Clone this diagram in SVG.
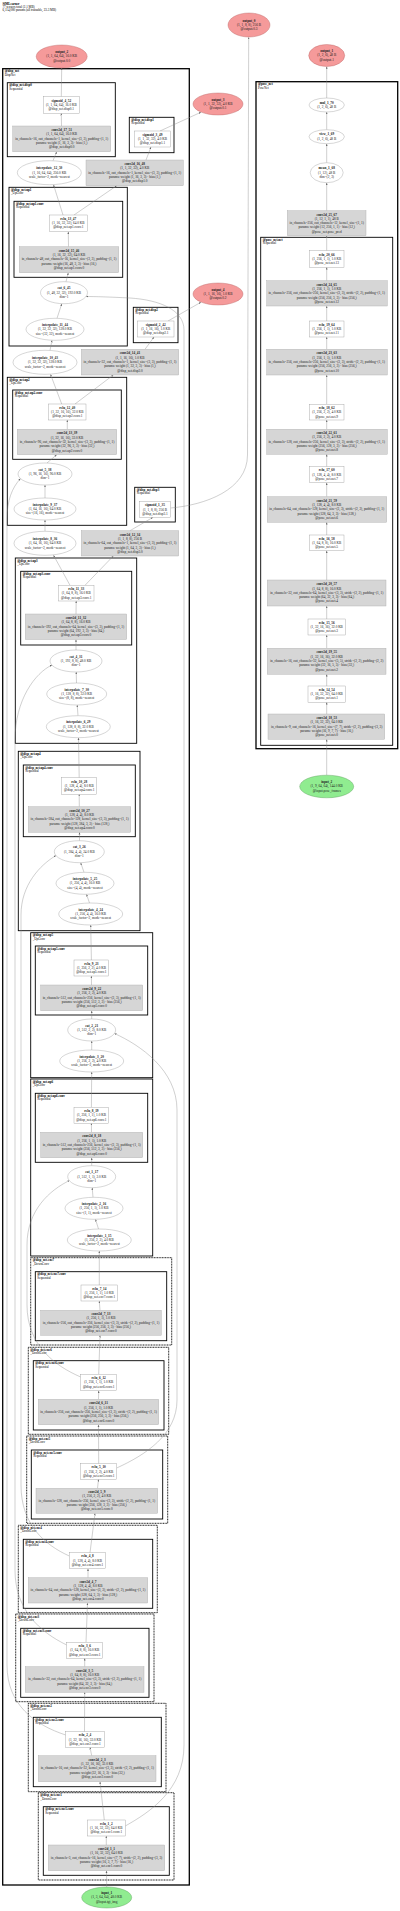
<svg xmlns="http://www.w3.org/2000/svg" width="400" height="1911" viewBox="0 0 400 1911">
<defs>
<marker id="a" viewBox="0 0 10 10" refX="10" refY="5" markerWidth="2.2" markerHeight="2.2" markerUnits="userSpaceOnUse" orient="auto"><path d="M0,1 L10,5 L0,9 z" fill="#666"/></marker>
<style>
.c{fill:none;stroke:#000;stroke-width:0.9}
.co{fill:none;stroke:#000;stroke-width:1.3}
.cd{fill:none;stroke:#000;stroke-width:0.9;stroke-dasharray:1 0.6}
.cl{font-family:"Liberation Serif",serif;font-size:3.2px;fill:#000}
.b{fill:#fff;stroke:#999;stroke-width:0.4}
.g{fill:#d6d6d6;stroke:#aaa;stroke-width:0.4}
.o{fill:#f59a9a;stroke:#b86464;stroke-width:0.4}
.i{fill:#90ec90;stroke:#5a9a5a;stroke-width:0.4}
.t{font-family:"Liberation Serif",serif;font-size:3.4px;text-anchor:middle;fill:#222}
.h{font-weight:bold}
.hd{font-family:"Liberation Serif",serif;font-size:3.2px;fill:#000}
#edges path{fill:none;stroke:#888;stroke-width:0.4;marker-end:url(#a)}
</style>
</defs>
<rect width="400" height="1911" fill="#fff"/>
<g id="header">
<text class="hd" x="2.5" y="4.5"><tspan class="h">SfMLearner</tspan><tspan x="2.5" dy="3.3">77 tensors total (2.1 MB)</tspan><tspan x="2.5" dy="3.3">6,114,080 params (all trainable, 23.3 MB)</tspan></text>
</g>
<g id="clusters">
<rect class="co" x="2.7" y="68.7" width="186.6" height="1816.3"/><text class="cl" x="4.7" y="72.3"><tspan class="h">@disp_net</tspan><tspan x="4.7" dy="3.3">DispNet</tspan></text>
<rect class="c" x="7.3" y="82.7" width="108" height="74"/><text class="cl" x="9.3" y="86.3"><tspan class="h">@disp_net.disp0</tspan><tspan x="9.3" dy="3.3">Sequential</tspan></text>
<rect class="c" x="129.3" y="117.3" width="44.7" height="35.4"/><text class="cl" x="131.3" y="120.9"><tspan class="h">@disp_net.disp1</tspan><tspan x="131.3" dy="3.3">Sequential</tspan></text>
<rect class="c" x="9" y="187.3" width="118.3" height="158.7"/><text class="cl" x="11" y="190.9"><tspan class="h">@disp_net.up1</tspan><tspan x="11" dy="3.3">_UpConv</tspan></text>
<rect class="c" x="14" y="201.3" width="108.7" height="76"/><text class="cl" x="16" y="204.9"><tspan class="h">@disp_net.up1.conv</tspan><tspan x="16" dy="3.3">Sequential</tspan></text>
<rect class="c" x="133.3" y="307.3" width="44.7" height="35.4"/><text class="cl" x="135.3" y="310.9"><tspan class="h">@disp_net.disp2</tspan><tspan x="135.3" dy="3.3">Sequential</tspan></text>
<rect class="c" x="7.3" y="377.3" width="119.4" height="148"/><text class="cl" x="9.3" y="380.9"><tspan class="h">@disp_net.up2</tspan><tspan x="9.3" dy="3.3">_UpConv</tspan></text>
<rect class="c" x="12.7" y="390" width="108.6" height="69.3"/><text class="cl" x="14.7" y="393.6"><tspan class="h">@disp_net.up2.conv</tspan><tspan x="14.7" dy="3.3">Sequential</tspan></text>
<rect class="c" x="134.7" y="487.3" width="40.6" height="34.7"/><text class="cl" x="136.7" y="490.9"><tspan class="h">@disp_net.disp3</tspan><tspan x="136.7" dy="3.3">Sequential</tspan></text>
<rect class="c" x="15.3" y="558" width="121.4" height="185.3"/><text class="cl" x="17.3" y="561.6"><tspan class="h">@disp_net.up3</tspan><tspan x="17.3" dy="3.3">_UpConv</tspan></text>
<rect class="c" x="20.7" y="571.3" width="111" height="73.7"/><text class="cl" x="22.7" y="574.9"><tspan class="h">@disp_net.up3.conv</tspan><tspan x="22.7" dy="3.3">Sequential</tspan></text>
<rect class="c" x="18.3" y="751.3" width="121.7" height="179.4"/><text class="cl" x="20.3" y="754.9"><tspan class="h">@disp_net.up4</tspan><tspan x="20.3" dy="3.3">_UpConv</tspan></text>
<rect class="c" x="23.3" y="765" width="112" height="71.7"/><text class="cl" x="25.3" y="768.6"><tspan class="h">@disp_net.up4.conv</tspan><tspan x="25.3" dy="3.3">Sequential</tspan></text>
<rect class="c" x="30.7" y="932.7" width="122" height="145"/><text class="cl" x="32.7" y="936.3"><tspan class="h">@disp_net.up5</tspan><tspan x="32.7" dy="3.3">_UpConv</tspan></text>
<rect class="c" x="35.3" y="946" width="112.4" height="69"/><text class="cl" x="37.3" y="949.6"><tspan class="h">@disp_net.up5.conv</tspan><tspan x="37.3" dy="3.3">Sequential</tspan></text>
<rect class="c" x="30.7" y="1079" width="122" height="177"/><text class="cl" x="32.7" y="1082.6"><tspan class="h">@disp_net.up6</tspan><tspan x="32.7" dy="3.3">_UpConv</tspan></text>
<rect class="c" x="35.3" y="1093.3" width="112.4" height="69"/><text class="cl" x="37.3" y="1096.9"><tspan class="h">@disp_net.up6.conv</tspan><tspan x="37.3" dy="3.3">Sequential</tspan></text>
<rect class="cd" x="30.7" y="1257.7" width="141" height="87.3"/><text class="cl" x="32.7" y="1261.3"><tspan class="h">@disp_net.enc7</tspan><tspan x="32.7" dy="3.3">_DownConv</tspan></text>
<rect class="c" x="35.3" y="1271.7" width="131.4" height="69"/><text class="cl" x="37.3" y="1275.3"><tspan class="h">@disp_net.enc7.conv</tspan><tspan x="37.3" dy="3.3">Sequential</tspan></text>
<rect class="cd" x="28.3" y="1347.3" width="140.4" height="87"/><text class="cl" x="30.3" y="1350.9"><tspan class="h">@disp_net.enc6</tspan><tspan x="30.3" dy="3.3">_DownConv</tspan></text>
<rect class="c" x="33.3" y="1360.7" width="130.7" height="69.3"/><text class="cl" x="35.3" y="1364.3"><tspan class="h">@disp_net.enc6.conv</tspan><tspan x="35.3" dy="3.3">Sequential</tspan></text>
<rect class="cd" x="26.7" y="1436" width="141" height="87.3"/><text class="cl" x="28.7" y="1439.6"><tspan class="h">@disp_net.enc5</tspan><tspan x="28.7" dy="3.3">_DownConv</tspan></text>
<rect class="c" x="31.3" y="1450" width="131.4" height="69"/><text class="cl" x="33.3" y="1453.6"><tspan class="h">@disp_net.enc5.conv</tspan><tspan x="33.3" dy="3.3">Sequential</tspan></text>
<rect class="cd" x="18.3" y="1525.3" width="139" height="87.4"/><text class="cl" x="20.3" y="1528.9"><tspan class="h">@disp_net.enc4</tspan><tspan x="20.3" dy="3.3">_DownConv</tspan></text>
<rect class="c" x="23.3" y="1539.3" width="129.4" height="69"/><text class="cl" x="25.3" y="1542.9"><tspan class="h">@disp_net.enc4.conv</tspan><tspan x="25.3" dy="3.3">Sequential</tspan></text>
<rect class="cd" x="15.7" y="1614" width="138.3" height="87.7"/><text class="cl" x="17.7" y="1617.6"><tspan class="h">@disp_net.enc3</tspan><tspan x="17.7" dy="3.3">_DownConv</tspan></text>
<rect class="c" x="20.7" y="1628.3" width="128.3" height="69"/><text class="cl" x="22.7" y="1631.9"><tspan class="h">@disp_net.enc3.conv</tspan><tspan x="22.7" dy="3.3">Sequential</tspan></text>
<rect class="cd" x="28.3" y="1703.3" width="137.7" height="88.4"/><text class="cl" x="30.3" y="1706.9"><tspan class="h">@disp_net.enc2</tspan><tspan x="30.3" dy="3.3">_DownConv</tspan></text>
<rect class="c" x="33.3" y="1717.3" width="128" height="69.4"/><text class="cl" x="35.3" y="1720.9"><tspan class="h">@disp_net.enc2.conv</tspan><tspan x="35.3" dy="3.3">Sequential</tspan></text>
<rect class="cd" x="38.3" y="1792.7" width="135.7" height="87.3"/><text class="cl" x="40.3" y="1796.3"><tspan class="h">@disp_net.enc1</tspan><tspan x="40.3" dy="3.3">_DownConv</tspan></text>
<rect class="c" x="43.3" y="1806.7" width="126" height="68.6"/><text class="cl" x="45.3" y="1810.3"><tspan class="h">@disp_net.enc1.conv</tspan><tspan x="45.3" dy="3.3">Sequential</tspan></text>
<rect class="co" x="256" y="81.7" width="141.7" height="667"/><text class="cl" x="258" y="85.3"><tspan class="h">@pose_net</tspan><tspan x="258" dy="3.3">PoseNet</tspan></text>
<rect class="c" x="260.7" y="237.3" width="132" height="508"/><text class="cl" x="262.7" y="240.9"><tspan class="h">@pose_net.net</tspan><tspan x="262.7" dy="3.3">Sequential</tspan></text>
</g>
<g id="edges">
<path d="M106.7,1887 L106.5,1870.7"/>
<path d="M106.3,1845 L106.3,1836"/>
<path d="M104.3,1820 L100,1781.7"/>
<path d="M91.7,1755.7 L90,1747.3"/>
<path d="M84.5,1731.7 L84.7,1692.3"/>
<path d="M84.7,1666.7 L84.7,1658.3"/>
<path d="M86,1642.3 L87.5,1603"/>
<path d="M88,1577.7 L88,1568.7"/>
<path d="M90,1552.7 L95,1513.3"/>
<path d="M97.5,1488.3 L98.5,1479.3"/>
<path d="M98.7,1463.7 L98.5,1424.7"/>
<path d="M98.5,1399.3 L98.7,1390.7"/>
<path d="M98.7,1374.3 L100,1335.3"/>
<path d="M100,1310.3 L99.3,1301"/>
<path d="M99.3,1285 L99.3,1251"/>
<path d="M98.5,1229 L95.5,1219.3"/>
<path d="M93,1197.3 L92.2,1187.7"/>
<path d="M91.7,1165.7 L91.7,1157.7"/>
<path d="M91.5,1132.3 L91.4,1123.3"/>
<path d="M91.4,1107.3 L91.7,1072"/>
<path d="M91.7,1050 L91.7,1041"/>
<path d="M91.7,1019 L91.7,1010.7"/>
<path d="M91.5,985 L91.4,976"/>
<path d="M91.4,960 L90.7,925"/>
<path d="M89.5,903 L86.5,894.3"/>
<path d="M84,872.3 L80.7,862.7"/>
<path d="M79.5,840.7 L79.5,832.3"/>
<path d="M79.3,806.7 L79.2,794.3"/>
<path d="M79.2,777.7 L78.5,737.7"/>
<path d="M78,715.7 L77.2,705"/>
<path d="M76.5,683 L76.2,672"/>
<path d="M76,650 L76,639.5"/>
<path d="M76,614 L76.2,601"/>
<path d="M85,585.3 L113.3,556"/>
<path d="M70,585.3 L53.5,555.2"/>
<path d="M130,530.7 L153,517.3"/>
<path d="M170.7,508 C205,505 247.5,490 247.5,455 L248.7,37.2"/>
<path d="M45,531.3 L45,520"/>
<path d="M45,498 L45,485"/>
<path d="M47,463 L56.7,454.7"/>
<path d="M67.3,429.3 L67.3,420"/>
<path d="M75,404 L113.3,375"/>
<path d="M61.7,404 L50.5,374.3"/>
<path d="M145,349.3 L154,337"/>
<path d="M168,321 L201,302.2"/>
<path d="M50,350.3 L52,340.3"/>
<path d="M57,318.3 L61.8,303.7"/>
<path d="M66,281.7 L68.3,272.7"/>
<path d="M68.5,246.7 L68.3,231.7"/>
<path d="M74,215 L116.7,185.7"/>
<path d="M63,215 L53.5,184.7"/>
<path d="M146,160 L151,147"/>
<path d="M160,131 L201,112.2"/>
<path d="M53,160.7 L56.7,151.7"/>
<path d="M61.5,126 L61.3,113.3"/>
<path d="M61.3,96.7 L61.7,68"/>
<path d="M125.3,1826 C150,1812 184,1790 184,1745 L184,330 C184,310 160,300 130,298 C110,297 95,296.5 86,296.5"/>
<path d="M116.7,1468 C145,1455 177,1435 177,1400 L177,1110 C177,1070 140,1045 114.5,1033.5"/>
<path d="M65.7,1735 C35,1725 7,1705 7,1665 L7,520 C7,500 12,488 20.5,478.5"/>
<path d="M66.7,1645 C40,1632 15,1610 15,1570 L15,740 C15,700 35,673 52,665"/>
<path d="M69.3,1556 C45,1545 21,1525 21,1485 L21,915 C21,885 40,865 56,855.5"/>
<path d="M80.7,1377 C55,1366 27,1345 27,1305 L27,1245 C27,1210 50,1190 69.5,1180.5"/>
<path d="M326.7,775.2 L326.7,739.3"/>
<path d="M326.7,714 L326.7,702.3"/>
<path d="M326.7,686 L326.7,674.3"/>
<path d="M326.7,648.3 L326.7,635"/>
<path d="M326.7,619 L326.7,606"/>
<path d="M326.7,580 L326.7,550.7"/>
<path d="M326.7,535 L326.7,522.3"/>
<path d="M326.7,496.7 L326.7,482.7"/>
<path d="M326.7,466.7 L326.7,454.3"/>
<path d="M326.7,429.3 L326.7,420"/>
<path d="M326.7,404.3 L326.7,375"/>
<path d="M326.7,349.3 L326.7,337"/>
<path d="M326.7,321 L326.7,306"/>
<path d="M326.7,280.7 L326.7,267.3"/>
<path d="M326.7,250.7 L326.7,235.7"/>
<path d="M326.7,210.7 L326.7,182.7"/>
<path d="M326.7,162.7 L326.7,143.7"/>
<path d="M326.7,129.7 L326.7,112"/>
<path d="M326.7,98 L326.7,66.5"/>
</g>
<g id="output_0"><ellipse class="o" cx="249" cy="25" rx="21" ry="12"/><text class="t" x="249" y="21.6"><tspan class="h">output_0</tspan><tspan x="249" dy="4.3">(1, 1, 8, 8), 256 B</tspan><tspan x="249" dy="4.3">@output.0.3</tspan></text></g>
<g id="output_1"><ellipse class="o" cx="326.7" cy="55.5" rx="18" ry="11"/><text class="t" x="326.7" y="52.1"><tspan class="h">output_1</tspan><tspan x="326.7" dy="4.3">(1, 2, 6), 48 B</tspan><tspan x="326.7" dy="4.3">@output.1</tspan></text></g>
<g id="output_2"><ellipse class="o" cx="61.7" cy="56.5" rx="25.5" ry="11.5"/><text class="t" x="61.7" y="53.1"><tspan class="h">output_2</tspan><tspan x="61.7" dy="4.3">(1, 1, 64, 64), 16.0 KB</tspan><tspan x="61.7" dy="4.3">@output.0.0</tspan></text></g>
<g id="output_3"><ellipse class="o" cx="218" cy="104" rx="25" ry="11"/><text class="t" x="218" y="100.6"><tspan class="h">output_3</tspan><tspan x="218" dy="4.3">(1, 1, 32, 32), 4.0 KB</tspan><tspan x="218" dy="4.3">@output.0.1</tspan></text></g>
<g id="output_4"><ellipse class="o" cx="218" cy="294" rx="25" ry="11"/><text class="t" x="218" y="290.6"><tspan class="h">output_4</tspan><tspan x="218" dy="4.3">(1, 1, 16, 16), 1.0 KB</tspan><tspan x="218" dy="4.3">@output.0.2</tspan></text></g>
<g id="sigmoid_4_52"><rect class="b" x="43.3" y="96.7" width="36" height="16.6"/><text class="t" x="61.3" y="101.5"><tspan class="h">sigmoid_4_52</tspan><tspan x="61.3" dy="4.3">(1, 1, 64, 64), 16.0 KB</tspan><tspan x="61.3" dy="4.3">@disp_net.disp0.1</tspan></text></g>
<g id="conv2d_17_51"><rect class="g" x="12.7" y="126" width="98" height="25.7"/><text class="t" x="61.7" y="131"><tspan class="h">conv2d_17_51</tspan><tspan x="61.7" dy="4.3">(1, 1, 64, 64), 16.0 KB</tspan><tspan x="61.7" dy="4.3">in_channels=16, out_channels=1, kernel_size=(3, 3), padding=(1, 1)</tspan><tspan x="61.7" dy="4.3">params: weight (1, 16, 3, 3) · bias (1,)</tspan><tspan x="61.7" dy="4.3">@disp_net.disp0.0</tspan></text></g>
<g id="sigmoid_3_49"><rect class="b" x="134.7" y="131" width="35.6" height="16"/><text class="t" x="152.5" y="135.6"><tspan class="h">sigmoid_3_49</tspan><tspan x="152.5" dy="4.3">(1, 1, 32, 32), 4.0 KB</tspan><tspan x="152.5" dy="4.3">@disp_net.disp1.1</tspan></text></g>
<g id="interpolate_12_50"><ellipse class="b" cx="49.3" cy="172.7" rx="32" ry="12"/><text class="t" x="49.3" y="169.3"><tspan class="h">interpolate_12_50</tspan><tspan x="49.3" dy="4.3">(1, 16, 64, 64), 256.0 KB</tspan><tspan x="49.3" dy="4.3">scale_factor=2, mode=nearest</tspan></text></g>
<g id="conv2d_16_48"><rect class="g" x="86" y="160" width="97.3" height="25.7"/><text class="t" x="134.7" y="165"><tspan class="h">conv2d_16_48</tspan><tspan x="134.7" dy="4.3">(1, 1, 32, 32), 4.0 KB</tspan><tspan x="134.7" dy="4.3">in_channels=16, out_channels=1, kernel_size=(3, 3), padding=(1, 1)</tspan><tspan x="134.7" dy="4.3">params: weight (1, 16, 3, 3) · bias (1,)</tspan><tspan x="134.7" dy="4.3">@disp_net.disp1.0</tspan></text></g>
<g id="relu_13_47"><rect class="b" x="49.3" y="215" width="38" height="16.7"/><text class="t" x="68.3" y="219.8"><tspan class="h">relu_13_47</tspan><tspan x="68.3" dy="4.3">(1, 16, 32, 32), 64.0 KB</tspan><tspan x="68.3" dy="4.3">@disp_net.up1.conv.1</tspan></text></g>
<g id="conv2d_15_46"><rect class="g" x="19.3" y="246.7" width="99.4" height="26"/><text class="t" x="69" y="251.8"><tspan class="h">conv2d_15_46</tspan><tspan x="69" dy="4.3">(1, 16, 32, 32), 64.0 KB</tspan><tspan x="69" dy="4.3">in_channels=48, out_channels=16, kernel_size=(3, 3), padding=(1, 1)</tspan><tspan x="69" dy="4.3">params: weight (16, 48, 3, 3) · bias (16,)</tspan><tspan x="69" dy="4.3">@disp_net.up1.conv.0</tspan></text></g>
<g id="cat_6_45"><ellipse class="b" cx="64" cy="292.7" rx="23.5" ry="11"/><text class="t" x="64" y="289.3"><tspan class="h">cat_6_45</tspan><tspan x="64" dy="4.3">(1, 48, 32, 32), 192.0 KB</tspan><tspan x="64" dy="4.3">dim=1</tspan></text></g>
<g id="sigmoid_2_42"><rect class="b" x="137.3" y="321" width="36.7" height="16"/><text class="t" x="155.7" y="325.6"><tspan class="h">sigmoid_2_42</tspan><tspan x="155.7" dy="4.3">(1, 1, 16, 16), 1.0 KB</tspan><tspan x="155.7" dy="4.3">@disp_net.disp2.1</tspan></text></g>
<g id="interpolate_11_44"><ellipse class="b" cx="55" cy="329.3" rx="29" ry="11"/><text class="t" x="55" y="325.9"><tspan class="h">interpolate_11_44</tspan><tspan x="55" dy="4.3">(1, 32, 32, 32), 128.0 KB</tspan><tspan x="55" dy="4.3">size=(32, 32), mode=nearest</tspan></text></g>
<g id="interpolate_10_43"><ellipse class="b" cx="45" cy="362.3" rx="32" ry="12"/><text class="t" x="45" y="358.9"><tspan class="h">interpolate_10_43</tspan><tspan x="45" dy="4.3">(1, 32, 32, 32), 128.0 KB</tspan><tspan x="45" dy="4.3">scale_factor=2, mode=nearest</tspan></text></g>
<g id="conv2d_14_41"><rect class="g" x="81.3" y="349.3" width="97.4" height="25.7"/><text class="t" x="130" y="354.3"><tspan class="h">conv2d_14_41</tspan><tspan x="130" dy="4.3">(1, 1, 16, 16), 1.0 KB</tspan><tspan x="130" dy="4.3">in_channels=32, out_channels=1, kernel_size=(3, 3), padding=(1, 1)</tspan><tspan x="130" dy="4.3">params: weight (1, 32, 3, 3) · bias (1,)</tspan><tspan x="130" dy="4.3">@disp_net.disp2.0</tspan></text></g>
<g id="relu_12_40"><rect class="b" x="48.7" y="404" width="37.3" height="16"/><text class="t" x="67.3" y="408.6"><tspan class="h">relu_12_40</tspan><tspan x="67.3" dy="4.3">(1, 32, 16, 16), 32.0 KB</tspan><tspan x="67.3" dy="4.3">@disp_net.up2.conv.1</tspan></text></g>
<g id="conv2d_13_39"><rect class="g" x="17.3" y="429.3" width="99.4" height="25.4"/><text class="t" x="67" y="434.3"><tspan class="h">conv2d_13_39</tspan><tspan x="67" dy="4.3">(1, 32, 16, 16), 32.0 KB</tspan><tspan x="67" dy="4.3">in_channels=96, out_channels=32, kernel_size=(3, 3), padding=(1, 1)</tspan><tspan x="67" dy="4.3">params: weight (32, 96, 3, 3) · bias (32,)</tspan><tspan x="67" dy="4.3">@disp_net.up2.conv.0</tspan></text></g>
<g id="cat_5_38"><ellipse class="b" cx="45" cy="474" rx="27" ry="11"/><text class="t" x="45" y="470.6"><tspan class="h">cat_5_38</tspan><tspan x="45" dy="4.3">(1, 96, 16, 16), 96.0 KB</tspan><tspan x="45" dy="4.3">dim=1</tspan></text></g>
<g id="interpolate_9_37"><ellipse class="b" cx="45" cy="509" rx="31" ry="11"/><text class="t" x="45" y="505.6"><tspan class="h">interpolate_9_37</tspan><tspan x="45" dy="4.3">(1, 64, 16, 16), 64.0 KB</tspan><tspan x="45" dy="4.3">size=(16, 16), mode=nearest</tspan></text></g>
<g id="sigmoid_1_35"><rect class="b" x="139.3" y="501.7" width="31.4" height="15.6"/><text class="t" x="155" y="506.2"><tspan class="h">sigmoid_1_35</tspan><tspan x="155" dy="4.3">(1, 1, 8, 8), 256 B</tspan><tspan x="155" dy="4.3">@disp_net.disp3.1</tspan></text></g>
<g id="interpolate_8_36"><ellipse class="b" cx="45" cy="543.3" rx="31" ry="12"/><text class="t" x="45" y="539.9"><tspan class="h">interpolate_8_36</tspan><tspan x="45" dy="4.3">(1, 64, 16, 16), 64.0 KB</tspan><tspan x="45" dy="4.3">scale_factor=2, mode=nearest</tspan></text></g>
<g id="conv2d_12_34"><rect class="g" x="81.3" y="530.7" width="97.4" height="25.3"/><text class="t" x="130" y="535.7"><tspan class="h">conv2d_12_34</tspan><tspan x="130" dy="4.3">(1, 1, 8, 8), 256 B</tspan><tspan x="130" dy="4.3">in_channels=64, out_channels=1, kernel_size=(3, 3), padding=(1, 1)</tspan><tspan x="130" dy="4.3">params: weight (1, 64, 3, 3) · bias (1,)</tspan><tspan x="130" dy="4.3">@disp_net.disp3.0</tspan></text></g>
<g id="relu_11_33"><rect class="b" x="58.3" y="585.3" width="35.7" height="15.7"/><text class="t" x="76.2" y="589.9"><tspan class="h">relu_11_33</tspan><tspan x="76.2" dy="4.3">(1, 64, 8, 8), 16.0 KB</tspan><tspan x="76.2" dy="4.3">@disp_net.up3.conv.1</tspan></text></g>
<g id="conv2d_11_32"><rect class="g" x="25.3" y="614" width="101.4" height="25.5"/><text class="t" x="76" y="619"><tspan class="h">conv2d_11_32</tspan><tspan x="76" dy="4.3">(1, 64, 8, 8), 16.0 KB</tspan><tspan x="76" dy="4.3">in_channels=192, out_channels=64, kernel_size=(3, 3), padding=(1, 1)</tspan><tspan x="76" dy="4.3">params: weight (64, 192, 3, 3) · bias (64,)</tspan><tspan x="76" dy="4.3">@disp_net.up3.conv.0</tspan></text></g>
<g id="cat_4_31"><ellipse class="b" cx="76" cy="661" rx="26" ry="11"/><text class="t" x="76" y="657.6"><tspan class="h">cat_4_31</tspan><tspan x="76" dy="4.3">(1, 192, 8, 8), 48.0 KB</tspan><tspan x="76" dy="4.3">dim=1</tspan></text></g>
<g id="interpolate_7_30"><ellipse class="b" cx="76.7" cy="694" rx="30" ry="11"/><text class="t" x="76.7" y="690.6"><tspan class="h">interpolate_7_30</tspan><tspan x="76.7" dy="4.3">(1, 128, 8, 8), 32.0 KB</tspan><tspan x="76.7" dy="4.3">size=(8, 8), mode=nearest</tspan></text></g>
<g id="interpolate_6_29"><ellipse class="b" cx="78.3" cy="726.7" rx="32" ry="11"/><text class="t" x="78.3" y="723.3"><tspan class="h">interpolate_6_29</tspan><tspan x="78.3" dy="4.3">(1, 128, 8, 8), 32.0 KB</tspan><tspan x="78.3" dy="4.3">scale_factor=2, mode=nearest</tspan></text></g>
<g id="relu_10_28"><rect class="b" x="61.7" y="777.7" width="35" height="16.6"/><text class="t" x="79.2" y="782.5"><tspan class="h">relu_10_28</tspan><tspan x="79.2" dy="4.3">(1, 128, 4, 4), 8.0 KB</tspan><tspan x="79.2" dy="4.3">@disp_net.up4.conv.1</tspan></text></g>
<g id="conv2d_10_27"><rect class="g" x="28.3" y="806.7" width="102.4" height="25.6"/><text class="t" x="79.5" y="811.7"><tspan class="h">conv2d_10_27</tspan><tspan x="79.5" dy="4.3">(1, 128, 4, 4), 8.0 KB</tspan><tspan x="79.5" dy="4.3">in_channels=384, out_channels=128, kernel_size=(3, 3), padding=(1, 1)</tspan><tspan x="79.5" dy="4.3">params: weight (128, 384, 3, 3) · bias (128,)</tspan><tspan x="79.5" dy="4.3">@disp_net.up4.conv.0</tspan></text></g>
<g id="cat_3_26"><ellipse class="b" cx="79.3" cy="851.7" rx="25" ry="11"/><text class="t" x="79.3" y="848.3"><tspan class="h">cat_3_26</tspan><tspan x="79.3" dy="4.3">(1, 384, 4, 4), 24.0 KB</tspan><tspan x="79.3" dy="4.3">dim=1</tspan></text></g>
<g id="interpolate_5_25"><ellipse class="b" cx="85" cy="883.3" rx="29" ry="11"/><text class="t" x="85" y="879.9"><tspan class="h">interpolate_5_25</tspan><tspan x="85" dy="4.3">(1, 256, 4, 4), 16.0 KB</tspan><tspan x="85" dy="4.3">size=(4, 4), mode=nearest</tspan></text></g>
<g id="interpolate_4_24"><ellipse class="b" cx="90.7" cy="914" rx="32" ry="11"/><text class="t" x="90.7" y="910.6"><tspan class="h">interpolate_4_24</tspan><tspan x="90.7" dy="4.3">(1, 256, 4, 4), 16.0 KB</tspan><tspan x="90.7" dy="4.3">scale_factor=2, mode=nearest</tspan></text></g>
<g id="relu_9_23"><rect class="b" x="74" y="960" width="34.7" height="16"/><text class="t" x="91.4" y="964.6"><tspan class="h">relu_9_23</tspan><tspan x="91.4" dy="4.3">(1, 256, 2, 2), 4.0 KB</tspan><tspan x="91.4" dy="4.3">@disp_net.up5.conv.1</tspan></text></g>
<g id="conv2d_9_22"><rect class="g" x="40.7" y="985" width="102" height="25.7"/><text class="t" x="91.7" y="990"><tspan class="h">conv2d_9_22</tspan><tspan x="91.7" dy="4.3">(1, 256, 2, 2), 4.0 KB</tspan><tspan x="91.7" dy="4.3">in_channels=512, out_channels=256, kernel_size=(3, 3), padding=(1, 1)</tspan><tspan x="91.7" dy="4.3">params: weight (256, 512, 3, 3) · bias (256,)</tspan><tspan x="91.7" dy="4.3">@disp_net.up5.conv.0</tspan></text></g>
<g id="cat_2_21"><ellipse class="b" cx="91.7" cy="1030" rx="24" ry="11"/><text class="t" x="91.7" y="1026.6"><tspan class="h">cat_2_21</tspan><tspan x="91.7" dy="4.3">(1, 512, 2, 2), 8.0 KB</tspan><tspan x="91.7" dy="4.3">dim=1</tspan></text></g>
<g id="interpolate_3_20"><ellipse class="b" cx="91.7" cy="1061" rx="32" ry="11"/><text class="t" x="91.7" y="1057.6"><tspan class="h">interpolate_3_20</tspan><tspan x="91.7" dy="4.3">(1, 256, 2, 2), 4.0 KB</tspan><tspan x="91.7" dy="4.3">scale_factor=2, mode=nearest</tspan></text></g>
<g id="relu_8_19"><rect class="b" x="74" y="1107.3" width="34.7" height="16"/><text class="t" x="91.4" y="1111.9"><tspan class="h">relu_8_19</tspan><tspan x="91.4" dy="4.3">(1, 256, 1, 1), 1.0 KB</tspan><tspan x="91.4" dy="4.3">@disp_net.up6.conv.1</tspan></text></g>
<g id="conv2d_8_18"><rect class="g" x="40.7" y="1132.3" width="102" height="25.4"/><text class="t" x="91.7" y="1137.3"><tspan class="h">conv2d_8_18</tspan><tspan x="91.7" dy="4.3">(1, 256, 1, 1), 1.0 KB</tspan><tspan x="91.7" dy="4.3">in_channels=512, out_channels=256, kernel_size=(3, 3), padding=(1, 1)</tspan><tspan x="91.7" dy="4.3">params: weight (256, 512, 3, 3) · bias (256,)</tspan><tspan x="91.7" dy="4.3">@disp_net.up6.conv.0</tspan></text></g>
<g id="cat_1_17"><ellipse class="b" cx="91.7" cy="1176.7" rx="24" ry="11"/><text class="t" x="91.7" y="1173.3"><tspan class="h">cat_1_17</tspan><tspan x="91.7" dy="4.3">(1, 512, 1, 1), 2.0 KB</tspan><tspan x="91.7" dy="4.3">dim=1</tspan></text></g>
<g id="interpolate_2_16"><ellipse class="b" cx="94" cy="1208.3" rx="29" ry="11"/><text class="t" x="94" y="1204.9"><tspan class="h">interpolate_2_16</tspan><tspan x="94" dy="4.3">(1, 256, 1, 1), 1.0 KB</tspan><tspan x="94" dy="4.3">size=(1, 1), mode=nearest</tspan></text></g>
<g id="interpolate_1_15"><ellipse class="b" cx="99.3" cy="1240" rx="32" ry="11"/><text class="t" x="99.3" y="1236.6"><tspan class="h">interpolate_1_15</tspan><tspan x="99.3" dy="4.3">(1, 256, 2, 2), 4.0 KB</tspan><tspan x="99.3" dy="4.3">scale_factor=2, mode=nearest</tspan></text></g>
<g id="relu_7_14"><rect class="b" x="81" y="1285" width="36.7" height="16"/><text class="t" x="99.3" y="1289.6"><tspan class="h">relu_7_14</tspan><tspan x="99.3" dy="4.3">(1, 256, 1, 1), 1.0 KB</tspan><tspan x="99.3" dy="4.3">@disp_net.enc7.conv.1</tspan></text></g>
<g id="conv2d_7_13"><rect class="g" x="40.7" y="1310.3" width="120.6" height="25"/><text class="t" x="101" y="1315.1"><tspan class="h">conv2d_7_13</tspan><tspan x="101" dy="4.3">(1, 256, 1, 1), 1.0 KB</tspan><tspan x="101" dy="4.3">in_channels=256, out_channels=256, kernel_size=(3, 3), stride=(2, 2), padding=(1, 1)</tspan><tspan x="101" dy="4.3">params: weight (256, 256, 3, 3) · bias (256,)</tspan><tspan x="101" dy="4.3">@disp_net.enc7.conv.0</tspan></text></g>
<g id="relu_6_12"><rect class="b" x="80.7" y="1374.3" width="36" height="16.4"/><text class="t" x="98.7" y="1379"><tspan class="h">relu_6_12</tspan><tspan x="98.7" dy="4.3">(1, 256, 1, 1), 1.0 KB</tspan><tspan x="98.7" dy="4.3">@disp_net.enc6.conv.1</tspan></text></g>
<g id="conv2d_6_11"><rect class="g" x="38.3" y="1399.3" width="120.4" height="25.4"/><text class="t" x="98.5" y="1404.3"><tspan class="h">conv2d_6_11</tspan><tspan x="98.5" dy="4.3">(1, 256, 1, 1), 1.0 KB</tspan><tspan x="98.5" dy="4.3">in_channels=256, out_channels=256, kernel_size=(3, 3), stride=(2, 2), padding=(1, 1)</tspan><tspan x="98.5" dy="4.3">params: weight (256, 256, 3, 3) · bias (256,)</tspan><tspan x="98.5" dy="4.3">@disp_net.enc6.conv.0</tspan></text></g>
<g id="relu_5_10"><rect class="b" x="80.7" y="1463.7" width="36" height="15.6"/><text class="t" x="98.7" y="1468.2"><tspan class="h">relu_5_10</tspan><tspan x="98.7" dy="4.3">(1, 256, 2, 2), 4.0 KB</tspan><tspan x="98.7" dy="4.3">@disp_net.enc5.conv.1</tspan></text></g>
<g id="conv2d_5_9"><rect class="g" x="36" y="1488.3" width="121.7" height="25"/><text class="t" x="96.8" y="1493.1"><tspan class="h">conv2d_5_9</tspan><tspan x="96.8" dy="4.3">(1, 256, 2, 2), 4.0 KB</tspan><tspan x="96.8" dy="4.3">in_channels=128, out_channels=256, kernel_size=(3, 3), stride=(2, 2), padding=(1, 1)</tspan><tspan x="96.8" dy="4.3">params: weight (256, 128, 3, 3) · bias (256,)</tspan><tspan x="96.8" dy="4.3">@disp_net.enc5.conv.0</tspan></text></g>
<g id="relu_4_8"><rect class="b" x="69.3" y="1552.7" width="36.4" height="16"/><text class="t" x="87.5" y="1557.3"><tspan class="h">relu_4_8</tspan><tspan x="87.5" dy="4.3">(1, 128, 4, 4), 8.0 KB</tspan><tspan x="87.5" dy="4.3">@disp_net.enc4.conv.1</tspan></text></g>
<g id="conv2d_4_7"><rect class="g" x="28.3" y="1577.7" width="119.4" height="25.3"/><text class="t" x="88" y="1582.6"><tspan class="h">conv2d_4_7</tspan><tspan x="88" dy="4.3">(1, 128, 4, 4), 8.0 KB</tspan><tspan x="88" dy="4.3">in_channels=64, out_channels=128, kernel_size=(3, 3), stride=(2, 2), padding=(1, 1)</tspan><tspan x="88" dy="4.3">params: weight (128, 64, 3, 3) · bias (128,)</tspan><tspan x="88" dy="4.3">@disp_net.enc4.conv.0</tspan></text></g>
<g id="relu_3_6"><rect class="b" x="66.7" y="1642.3" width="36" height="16"/><text class="t" x="84.7" y="1646.9"><tspan class="h">relu_3_6</tspan><tspan x="84.7" dy="4.3">(1, 64, 8, 8), 16.0 KB</tspan><tspan x="84.7" dy="4.3">@disp_net.enc3.conv.1</tspan></text></g>
<g id="conv2d_3_5"><rect class="g" x="25.3" y="1666.7" width="118.7" height="25.6"/><text class="t" x="84.7" y="1671.7"><tspan class="h">conv2d_3_5</tspan><tspan x="84.7" dy="4.3">(1, 64, 8, 8), 16.0 KB</tspan><tspan x="84.7" dy="4.3">in_channels=32, out_channels=64, kernel_size=(3, 3), stride=(2, 2), padding=(1, 1)</tspan><tspan x="84.7" dy="4.3">params: weight (64, 32, 3, 3) · bias (64,)</tspan><tspan x="84.7" dy="4.3">@disp_net.enc3.conv.0</tspan></text></g>
<g id="relu_2_4"><rect class="b" x="65.7" y="1731.7" width="38.6" height="15.6"/><text class="t" x="85" y="1736.2"><tspan class="h">relu_2_4</tspan><tspan x="85" dy="4.3">(1, 32, 16, 16), 32.0 KB</tspan><tspan x="85" dy="4.3">@disp_net.enc2.conv.1</tspan></text></g>
<g id="conv2d_2_3"><rect class="g" x="38.3" y="1755.7" width="117.7" height="26"/><text class="t" x="97.2" y="1760.8"><tspan class="h">conv2d_2_3</tspan><tspan x="97.2" dy="4.3">(1, 32, 16, 16), 32.0 KB</tspan><tspan x="97.2" dy="4.3">in_channels=16, out_channels=32, kernel_size=(3, 3), stride=(2, 2), padding=(1, 1)</tspan><tspan x="97.2" dy="4.3">params: weight (32, 16, 3, 3) · bias (32,)</tspan><tspan x="97.2" dy="4.3">@disp_net.enc2.conv.0</tspan></text></g>
<g id="relu_1_2"><rect class="b" x="87.3" y="1820" width="38" height="16"/><text class="t" x="106.3" y="1824.6"><tspan class="h">relu_1_2</tspan><tspan x="106.3" dy="4.3">(1, 16, 32, 32), 64.0 KB</tspan><tspan x="106.3" dy="4.3">@disp_net.enc1.conv.1</tspan></text></g>
<g id="conv2d_1_1"><rect class="g" x="48.3" y="1845" width="116.4" height="25.7"/><text class="t" x="106.5" y="1850"><tspan class="h">conv2d_1_1</tspan><tspan x="106.5" dy="4.3">(1, 16, 32, 32), 64.0 KB</tspan><tspan x="106.5" dy="4.3">in_channels=3, out_channels=16, kernel_size=(7, 7), stride=(2, 2), padding=(3, 3)</tspan><tspan x="106.5" dy="4.3">params: weight (16, 3, 7, 7) · bias (16,)</tspan><tspan x="106.5" dy="4.3">@disp_net.enc1.conv.0</tspan></text></g>
<g id="input_1"><ellipse class="i" cx="106.7" cy="1897.5" rx="25" ry="10.5"/><text class="t" x="106.7" y="1894.1"><tspan class="h">input_1</tspan><tspan x="106.7" dy="4.3">(1, 3, 64, 64), 48.0 KB</tspan><tspan x="106.7" dy="4.3">@input.tgt_img</tspan></text></g>
<g id="mul_1_70"><ellipse class="b" cx="326.7" cy="105" rx="17.7" ry="7"/><text class="t" x="326.7" y="103.7"><tspan class="h">mul_1_70</tspan><tspan x="326.7" dy="4.3">(1, 2, 6), 48 B</tspan></text></g>
<g id="view_1_69"><ellipse class="b" cx="326.7" cy="136.7" rx="17.7" ry="7"/><text class="t" x="326.7" y="135.4"><tspan class="h">view_1_69</tspan><tspan x="326.7" dy="4.3">(1, 2, 6), 48 B</tspan></text></g>
<g id="mean_1_68"><ellipse class="b" cx="326.7" cy="172.7" rx="16.5" ry="10"/><text class="t" x="326.7" y="169.3"><tspan class="h">mean_1_68</tspan><tspan x="326.7" dy="4.3">(1, 12), 48 B</tspan><tspan x="326.7" dy="4.3">dim=(2, 3)</tspan></text></g>
<g id="conv2d_25_67"><rect class="g" x="287.3" y="210.7" width="78.7" height="25"/><text class="t" x="326.7" y="215.5"><tspan class="h">conv2d_25_67</tspan><tspan x="326.7" dy="4.3">(1, 12, 1, 1), 48 B</tspan><tspan x="326.7" dy="4.3">in_channels=256, out_channels=12, kernel_size=(1, 1)</tspan><tspan x="326.7" dy="4.3">params: weight (12, 256, 1, 1) · bias (12,)</tspan><tspan x="326.7" dy="4.3">@pose_net.pose_pred</tspan></text></g>
<g id="relu_20_66"><rect class="b" x="309.3" y="250.7" width="34.7" height="16.6"/><text class="t" x="326.7" y="255.5"><tspan class="h">relu_20_66</tspan><tspan x="326.7" dy="4.3">(1, 256, 1, 1), 1.0 KB</tspan><tspan x="326.7" dy="4.3">@pose_net.net.13</tspan></text></g>
<g id="conv2d_24_65"><rect class="g" x="266.7" y="280.7" width="120.6" height="25.3"/><text class="t" x="326.7" y="285.6"><tspan class="h">conv2d_24_65</tspan><tspan x="326.7" dy="4.3">(1, 256, 1, 1), 1.0 KB</tspan><tspan x="326.7" dy="4.3">in_channels=256, out_channels=256, kernel_size=(3, 3), stride=(2, 2), padding=(1, 1)</tspan><tspan x="326.7" dy="4.3">params: weight (256, 256, 3, 3) · bias (256,)</tspan><tspan x="326.7" dy="4.3">@pose_net.net.12</tspan></text></g>
<g id="relu_19_64"><rect class="b" x="309.3" y="321" width="34.7" height="16"/><text class="t" x="326.7" y="325.6"><tspan class="h">relu_19_64</tspan><tspan x="326.7" dy="4.3">(1, 256, 1, 1), 1.0 KB</tspan><tspan x="326.7" dy="4.3">@pose_net.net.11</tspan></text></g>
<g id="conv2d_23_63"><rect class="g" x="266.7" y="349.3" width="120.6" height="25.7"/><text class="t" x="326.7" y="354.3"><tspan class="h">conv2d_23_63</tspan><tspan x="326.7" dy="4.3">(1, 256, 1, 1), 1.0 KB</tspan><tspan x="326.7" dy="4.3">in_channels=256, out_channels=256, kernel_size=(3, 3), stride=(2, 2), padding=(1, 1)</tspan><tspan x="326.7" dy="4.3">params: weight (256, 256, 3, 3) · bias (256,)</tspan><tspan x="326.7" dy="4.3">@pose_net.net.10</tspan></text></g>
<g id="relu_18_62"><rect class="b" x="309.3" y="404.3" width="34.7" height="15.7"/><text class="t" x="326.7" y="408.9"><tspan class="h">relu_18_62</tspan><tspan x="326.7" dy="4.3">(1, 256, 2, 2), 4.0 KB</tspan><tspan x="326.7" dy="4.3">@pose_net.net.9</tspan></text></g>
<g id="conv2d_22_61"><rect class="g" x="266.7" y="429.3" width="120.6" height="25"/><text class="t" x="326.7" y="434.1"><tspan class="h">conv2d_22_61</tspan><tspan x="326.7" dy="4.3">(1, 256, 2, 2), 4.0 KB</tspan><tspan x="326.7" dy="4.3">in_channels=128, out_channels=256, kernel_size=(3, 3), stride=(2, 2), padding=(1, 1)</tspan><tspan x="326.7" dy="4.3">params: weight (256, 128, 3, 3) · bias (256,)</tspan><tspan x="326.7" dy="4.3">@pose_net.net.8</tspan></text></g>
<g id="relu_17_60"><rect class="b" x="309.3" y="466.7" width="34.7" height="16"/><text class="t" x="326.7" y="471.3"><tspan class="h">relu_17_60</tspan><tspan x="326.7" dy="4.3">(1, 128, 4, 4), 8.0 KB</tspan><tspan x="326.7" dy="4.3">@pose_net.net.7</tspan></text></g>
<g id="conv2d_21_59"><rect class="g" x="267.3" y="496.7" width="119.4" height="25.6"/><text class="t" x="326.7" y="501.7"><tspan class="h">conv2d_21_59</tspan><tspan x="326.7" dy="4.3">(1, 128, 4, 4), 8.0 KB</tspan><tspan x="326.7" dy="4.3">in_channels=64, out_channels=128, kernel_size=(3, 3), stride=(2, 2), padding=(1, 1)</tspan><tspan x="326.7" dy="4.3">params: weight (128, 64, 3, 3) · bias (128,)</tspan><tspan x="326.7" dy="4.3">@pose_net.net.6</tspan></text></g>
<g id="relu_16_58"><rect class="b" x="309.3" y="535" width="34.7" height="15.7"/><text class="t" x="326.7" y="539.6"><tspan class="h">relu_16_58</tspan><tspan x="326.7" dy="4.3">(1, 64, 8, 8), 16.0 KB</tspan><tspan x="326.7" dy="4.3">@pose_net.net.5</tspan></text></g>
<g id="conv2d_20_57"><rect class="g" x="267.3" y="580" width="118.7" height="26"/><text class="t" x="326.7" y="585.2"><tspan class="h">conv2d_20_57</tspan><tspan x="326.7" dy="4.3">(1, 64, 8, 8), 16.0 KB</tspan><tspan x="326.7" dy="4.3">in_channels=32, out_channels=64, kernel_size=(3, 3), stride=(2, 2), padding=(1, 1)</tspan><tspan x="326.7" dy="4.3">params: weight (64, 32, 3, 3) · bias (64,)</tspan><tspan x="326.7" dy="4.3">@pose_net.net.4</tspan></text></g>
<g id="relu_15_56"><rect class="b" x="308" y="619" width="37.3" height="16"/><text class="t" x="326.7" y="623.6"><tspan class="h">relu_15_56</tspan><tspan x="326.7" dy="4.3">(1, 32, 16, 16), 32.0 KB</tspan><tspan x="326.7" dy="4.3">@pose_net.net.3</tspan></text></g>
<g id="conv2d_19_55"><rect class="g" x="267.3" y="648.3" width="118.7" height="26"/><text class="t" x="326.7" y="653.4"><tspan class="h">conv2d_19_55</tspan><tspan x="326.7" dy="4.3">(1, 32, 16, 16), 32.0 KB</tspan><tspan x="326.7" dy="4.3">in_channels=16, out_channels=32, kernel_size=(5, 5), stride=(2, 2), padding=(2, 2)</tspan><tspan x="326.7" dy="4.3">params: weight (32, 16, 5, 5) · bias (32,)</tspan><tspan x="326.7" dy="4.3">@pose_net.net.2</tspan></text></g>
<g id="relu_14_54"><rect class="b" x="308" y="686" width="37.3" height="16.3"/><text class="t" x="326.7" y="690.7"><tspan class="h">relu_14_54</tspan><tspan x="326.7" dy="4.3">(1, 16, 32, 32), 64.0 KB</tspan><tspan x="326.7" dy="4.3">@pose_net.net.1</tspan></text></g>
<g id="conv2d_18_53"><rect class="g" x="268" y="714" width="116.7" height="25.3"/><text class="t" x="326.7" y="718.9"><tspan class="h">conv2d_18_53</tspan><tspan x="326.7" dy="4.3">(1, 16, 32, 32), 64.0 KB</tspan><tspan x="326.7" dy="4.3">in_channels=9, out_channels=16, kernel_size=(7, 7), stride=(2, 2), padding=(3, 3)</tspan><tspan x="326.7" dy="4.3">params: weight (16, 9, 7, 7) · bias (16,)</tspan><tspan x="326.7" dy="4.3">@pose_net.net.0</tspan></text></g>
<g id="input_2"><ellipse class="i" cx="326.7" cy="786.5" rx="27" ry="11.3"/><text class="t" x="326.7" y="783.1"><tspan class="h">input_2</tspan><tspan x="326.7" dy="4.3">(1, 9, 64, 64), 144.0 KB</tspan><tspan x="326.7" dy="4.3">@input.pose_frames</tspan></text></g>
</svg>
